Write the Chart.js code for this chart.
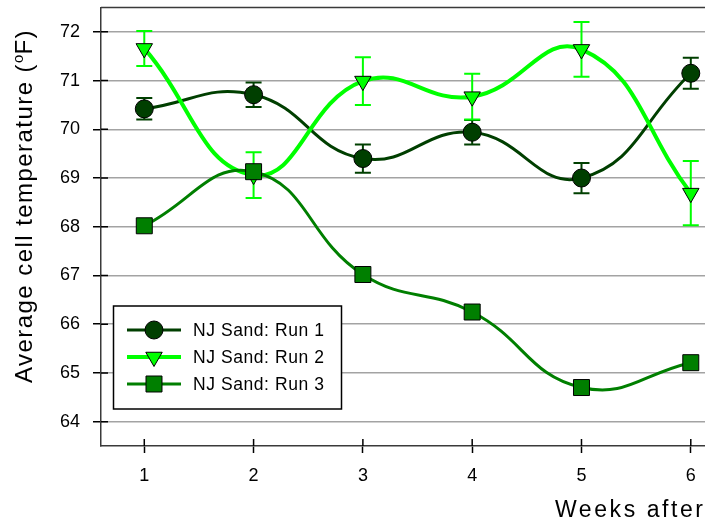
<!DOCTYPE html>
<html>
<head>
<meta charset="utf-8">
<title>Average cell temperature</title>
<script src="https://cdn.jsdelivr.net/npm/chart.js@4/dist/chart.umd.min.js"></script>
<style>
  html, body { margin: 0; padding: 0; background: #fff; overflow: hidden; }
  #wrap { width: 705px; height: 524px; }
</style>
</head>
<body>
<div id="wrap"><canvas id="c" width="705" height="524"></canvas></div>
<script>
// Weekly average cell temperatures (°F) with standard errors
const weeks = [1, 2, 3, 4, 5, 6];
const run1 = [70.42, 70.71, 69.40, 69.94, 69.00, 71.15];
const run1Err = [0.22, 0.25, 0.29, 0.25, 0.31, 0.32];
const run2 = [71.66, 69.06, 70.99, 70.67, 71.64, 68.69];
const run2Err = [0.36, 0.47, 0.49, 0.47, 0.56, 0.66];
const run3 = [68.02, 69.13, 67.02, 66.25, 64.70, 65.21];
const seriesNames = ['NJ Sand: Run 1', 'NJ Sand: Run 2', 'NJ Sand: Run 3'];
const xTicks = [1, 2, 3, 4, 5, 6];
const yTicks = [64, 65, 66, 67, 68, 69, 70, 71, 72];
const xTitle = 'Weeks after';
const yTitleParts = ['Average cell temperature (', 'o', 'F)'];

const FONT = "'Liberation Sans', Arial, sans-serif";
const AXIS_COLOR = '#3a3a3a';

const points = (vals) => weeks.map((w, i) => ({ x: w, y: vals[i] }));

// Draw text left-aligned at x, stretched with letter spacing to a given width
function spacedText(ctx, text, x, y, target) {
  ctx.letterSpacing = '0px';
  const w0 = ctx.measureText(text).width;
  const ls = target ? (target - w0) / Math.max(1, text.length - 1) : 0;
  ctx.letterSpacing = ls.toFixed(2) + 'px';
  ctx.fillText(text, x, y);
  ctx.letterSpacing = '0px';
}

// Keep the plot box at fixed edges: no extra room for overhanging labels
function noOverhang(s) {
  s.paddingTop = 0; s.paddingBottom = 0; s.paddingLeft = 0; s.paddingRight = 0;
}

// Vertical error bars, drawn just beneath each dataset's own line and markers
const errorBars = {
  id: 'errorBars',
  beforeDatasetDraw(chart, args) {
    const ds = chart.data.datasets[args.index];
    if (!ds.errors) return;
    const { ctx, scales: { x, y } } = chart;
    ctx.save();
    ctx.strokeStyle = ds.borderColor;
    ctx.lineWidth = 2;
    ds.data.forEach((p, i) => {
      const px = x.getPixelForValue(p.x);
      const top = y.getPixelForValue(p.y + ds.errors[i]);
      const bot = y.getPixelForValue(p.y - ds.errors[i]);
      ctx.beginPath();
      ctx.moveTo(px, top); ctx.lineTo(px, bot);
      ctx.moveTo(px - 8, top); ctx.lineTo(px + 8, top);
      ctx.moveTo(px - 8, bot); ctx.lineTo(px + 8, bot);
      ctx.stroke();
    });
    ctx.restore();
  }
};

// Frame, inner tick halves, axis titles and the boxed legend
const decorations = {
  id: 'decorations',
  afterDraw(chart) {
    const { ctx, chartArea: a, scales: { x, y } } = chart;
    ctx.save();
    // top frame line
    ctx.strokeStyle = AXIS_COLOR;
    ctx.lineWidth = 1.5;
    ctx.beginPath();
    ctx.moveTo(a.left, a.top); ctx.lineTo(a.right, a.top);
    ctx.stroke();
    // tick marks continue a little inside the plot
    ctx.strokeStyle = '#000';
    ctx.beginPath();
    y.ticks.forEach(t => {
      const py = y.getPixelForValue(t.value);
      ctx.moveTo(a.left, py); ctx.lineTo(a.left + 7, py);
    });
    x.ticks.forEach(t => {
      const px = x.getPixelForValue(t.value);
      ctx.moveTo(px, a.bottom); ctx.lineTo(px, a.bottom - 7);
    });
    ctx.stroke();

    // x axis title
    ctx.fillStyle = '#000';
    ctx.font = '23px ' + FONT;
    ctx.textBaseline = 'alphabetic';
    ctx.textAlign = 'left';
    spacedText(ctx, xTitle, 555, 517, 148);

    // y axis title with superscript degree mark, spread along the axis
    ctx.save();
    ctx.translate(32, 206);
    ctx.rotate(-Math.PI / 2);
    const big = '24px ' + FONT, small = '15px ' + FONT;
    const span = 354;
    ctx.font = big;
    const n1 = yTitleParts[0].length, n3 = yTitleParts[2].length;
    const w1 = ctx.measureText(yTitleParts[0]).width;
    const w3 = ctx.measureText(yTitleParts[2]).width;
    ctx.font = small;
    const w2 = ctx.measureText(yTitleParts[1]).width;
    const ls = (span - (w1 + w2 + w3)) / (n1 + n3);
    let cx = -span / 2;
    ctx.font = big;
    ctx.letterSpacing = ls.toFixed(2) + 'px';
    ctx.fillText(yTitleParts[0], cx, 0); cx += w1 + ls * n1;
    ctx.font = small;
    ctx.letterSpacing = '0px';
    ctx.fillText(yTitleParts[1], cx, -9); cx += w2;
    ctx.font = big;
    ctx.letterSpacing = ls.toFixed(2) + 'px';
    ctx.fillText(yTitleParts[2], cx, 0);
    ctx.letterSpacing = '0px';
    ctx.restore();

    // legend box
    const L = { x: 113.5, y: 306, w: 228, h: 103 };
    ctx.fillStyle = '#fff';
    ctx.fillRect(L.x, L.y, L.w, L.h);
    ctx.strokeStyle = '#000';
    ctx.lineWidth = 1.5;
    ctx.strokeRect(L.x, L.y, L.w, L.h);
    chart.data.datasets.forEach((ds, i) => {
      const ry = 330 + i * 27;
      ctx.strokeStyle = ds.borderColor;
      ctx.lineWidth = ds.borderWidth;
      ctx.beginPath();
      ctx.moveTo(127, ry); ctx.lineTo(181, ry);
      ctx.stroke();
      ctx.fillStyle = ds.pointBackgroundColor;
      ctx.strokeStyle = ds.pointBorderColor;
      ctx.lineWidth = ds.pointBorderWidth;
      Chart.helpers.drawPoint(ctx, {
        pointStyle: ds.pointStyle,
        radius: ds.pointRadius,
        rotation: ds.pointRotation || 0,
        borderWidth: ds.pointBorderWidth
      }, 154, ry);
      ctx.fillStyle = '#000';
      ctx.font = '17.5px ' + FONT;
      ctx.textBaseline = 'middle';
      spacedText(ctx, ds.label, 193, ry + 1, 131);
    });
    ctx.restore();
  }
};

new Chart(document.getElementById('c'), {
  type: 'line',
  data: {
    datasets: [
      {
        label: seriesNames[0], data: points(run1), errors: run1Err,
        borderColor: '#003f00', borderWidth: 3, tension: 0.45,
        pointStyle: 'circle', pointRadius: 9,
        pointBackgroundColor: '#003f00', pointBorderColor: '#000', pointBorderWidth: 1,
        order: 3
      },
      {
        label: seriesNames[1], data: points(run2), errors: run2Err,
        borderColor: '#00ff00', borderWidth: 4, tension: 0.45,
        pointStyle: 'triangle', pointRotation: 180, pointRadius: 9.5,
        pointBackgroundColor: '#00ff00', pointBorderColor: '#000', pointBorderWidth: 1,
        order: 2
      },
      {
        label: seriesNames[2], data: points(run3),
        borderColor: '#007f00', borderWidth: 3, tension: 0.45,
        pointStyle: 'rect', pointRadius: 11.3,
        pointBackgroundColor: '#007f00', pointBorderColor: '#000', pointBorderWidth: 1,
        order: 1
      }
    ]
  },
  options: {
    responsive: false,
    animation: false,
    devicePixelRatio: 1,
    layout: { autoPadding: false, padding: { top: 7.5, right: 0, left: 0, bottom: 0 } },
    plugins: { legend: { display: false }, tooltip: { enabled: false } },
    scales: {
      x: {
        type: 'linear', min: 0.604, max: 6.13,
        afterBuildTicks: s => { s.ticks = xTicks.map(v => ({ value: v })); },
        afterFit: s => { s.height = 78; noOverhang(s); },
        grid: { drawOnChartArea: false, drawTicks: true, tickLength: 7, tickColor: '#000', tickWidth: 1.5 },
        border: { color: AXIS_COLOR, width: 1.5 },
        ticks: { color: '#000', font: { family: FONT, size: 18 }, padding: 12 }
      },
      y: {
        type: 'linear', min: 63.5, max: 72.5,
        afterBuildTicks: s => { s.ticks = yTicks.map(v => ({ value: v })); },
        afterFit: s => { s.width = 101; noOverhang(s); },
        grid: { color: '#a3a3a3', lineWidth: 1.5, drawTicks: true, tickLength: 8, tickColor: '#000', tickWidth: 1.5 },
        border: { color: AXIS_COLOR, width: 1.5 },
        ticks: { color: '#000', font: { family: FONT, size: 18 }, padding: 13 }
      }
    }
  },
  plugins: [errorBars, decorations]
});
</script>
</body>
</html>
